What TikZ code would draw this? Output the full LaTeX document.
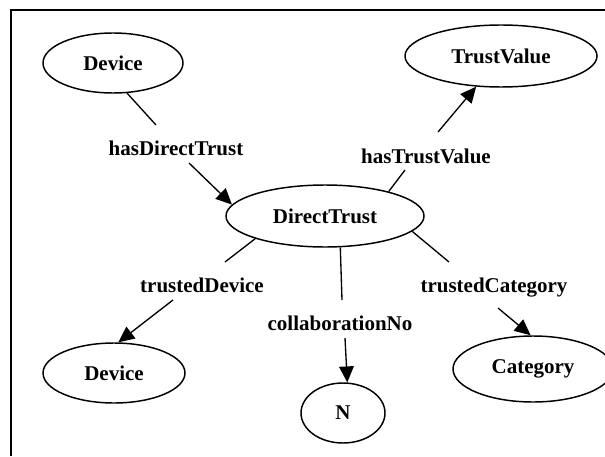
\documentclass[tikz,border=0pt]{standalone}
\usepackage{fontspec}
\setmainfont{Liberation Serif}
\usetikzlibrary{arrows.meta,calc,shapes.geometric}
\tikzset{
  ent/.style={draw, ellipse, line width=1.1pt, inner sep=0pt, font=\fontsize{15.75}{18}\selectfont\bfseries},
  rel/.style={inner sep=0pt, anchor=base, font=\fontsize{15.75}{18}\selectfont\bfseries},
  seg/.style={line width=1pt},
  arr/.style={line width=1pt, -{Triangle[length=12pt,width=11pt]}},
  frame/.style={line width=1.2pt}
}
\begin{document}
\begin{tikzpicture}[x=0.75pt,y=-0.75pt]
\useasboundingbox (0,0) rectangle (605,456);
\draw[frame] (11,456) -- (11,10) -- (605,10);
% entities
\node[ent, minimum width=105pt, minimum height=45pt] (dev1) at (113,63) {Device};
\node[ent, minimum width=144pt, minimum height=46.5pt] (tv) at (501,56) {TrustValue};
\node[ent, minimum width=148.5pt, minimum height=46.5pt] (dt) at (325,216) {DirectTrust};
\node[ent, minimum width=106.5pt, minimum height=45pt] (dev2) at (114,373) {Device};
\node[ent, minimum width=63pt, minimum height=45pt] (n) at (343,413) {N};
\node[ent, minimum width=120pt, minimum height=49.5pt] (cat) at (533,369) {Category};
% relation labels
\node[rel] (l1) at (176,155) {hasDirectTrust};
\node[rel] (l2) at (426,163) {hasTrustValue};
\node[rel] (l3) at (202,292) {trustedDevice};
\node[rel] (l4) at (340,330) {collaborationNo};
\node[rel] (l5) at (494,292) {trustedCategory};
% connectors
\draw[seg] (dev1.-65) -- ($(l1.base)+(-20,-30)$);
\draw[arr] ($(l1.base)+(13,8)$) -- (dt.173);
\draw[seg] (dt.21) -- ($(l2.base)+(-21,7)$);
\draw[arr] ($(l2.base)+(12,-31)$) -- (tv.-129);
\draw[seg] (dt.-162) -- ($(l3.base)+(23,-30)$);
\draw[arr] ($(l3.base)+(-29,8)$) -- (dev2.82);
\draw[seg] (dt.-64) -- ($(l4.base)+(2,-30)$);
\draw[arr] ($(l4.base)+(5,8)$) -- (n.82);
\draw[seg] (dt.-10) -- ($(l5.base)+(-45,-30)$);
\draw[arr] ($(l5.base)+(4,16)$) -- (cat.94);
\end{tikzpicture}
\end{document}
